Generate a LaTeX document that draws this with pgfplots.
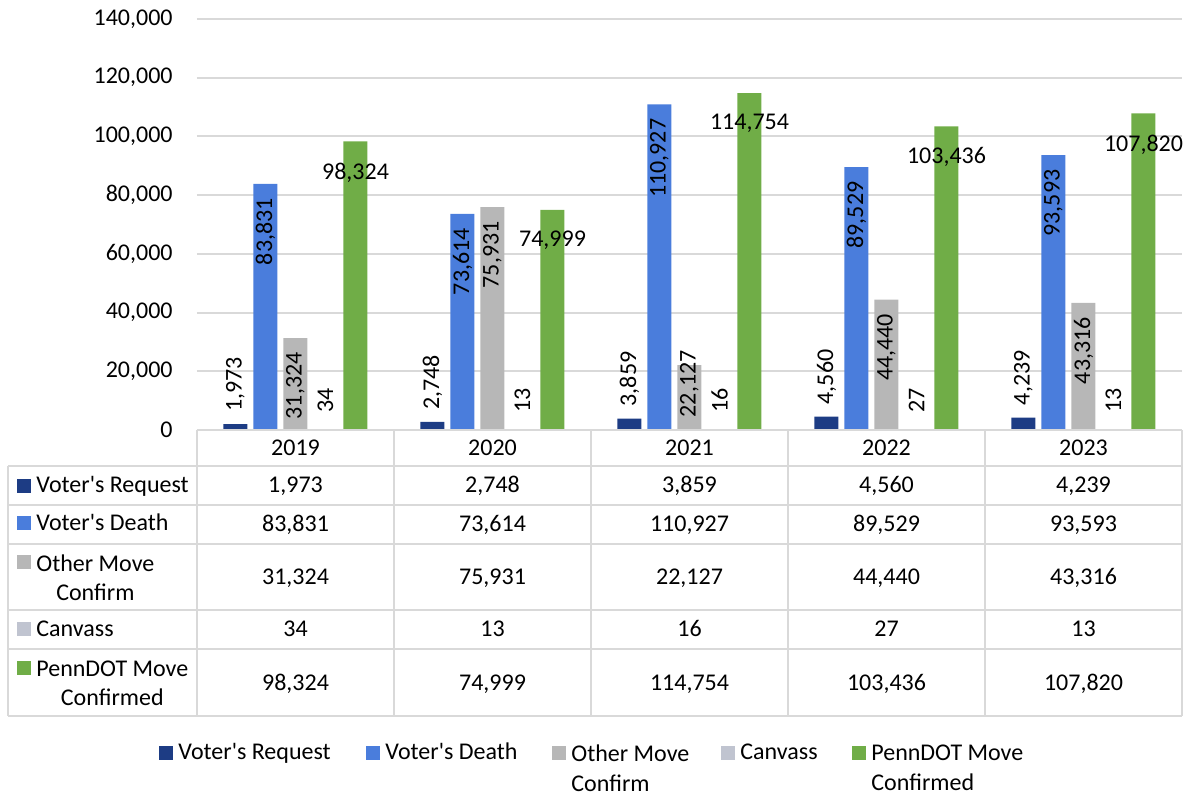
\documentclass[border=0pt]{standalone}
\usepackage{fontspec}
\setmainfont{Carlito}
\usepackage{pgfplots}
\pgfplotsset{compat=1.18}
\definecolor{cReq}{HTML}{1D3C84}
\definecolor{cDeath}{HTML}{4A7DDC}
\definecolor{cOther}{HTML}{B7B7B7}
\definecolor{cCanv}{HTML}{C0C4D0}
\definecolor{cPenn}{HTML}{70AD47}
\definecolor{cGrid}{HTML}{D9D9D9}
\newcommand{\ap}{\textquotesingle}
\begin{document}
\begin{tikzpicture}[font=\fontsize{12}{14.5}\selectfont]
\begin{axis}[
  at={(98.5pt,-215pt)}, anchor=south west,
  scale only axis, width=492.5pt, height=205.5pt,
  ybar=3pt, bar width=12pt,
  xmin=-0.5, xmax=4.5, ymin=0, ymax=140000,
  xtick=\empty,
  ytick={0,20000,40000,60000,80000,100000,120000,140000},
  scaled y ticks=false,
  ymajorgrids, grid style={draw=cGrid, line width=1pt},
  axis line style={draw=none},
  major tick length=0pt,
  yticklabel style={anchor=east, inner sep=0pt, xshift=-12pt},
  /pgf/number format/fixed,
  /pgf/number format/precision=0,
  /pgf/number format/1000 sep={,},
  /pgf/number format/assume math mode=true,
  clip=false,
]
\addplot[fill=cReq, draw=none, nodes near coords,
  every node near coord/.append style={rotate=90, anchor=west, inner xsep=6pt, inner ysep=0pt, text=black}]
  coordinates {(0,1973) (1,2748) (2,3859) (3,4560) (4,4239)};
\addplot[fill=cDeath, draw=none, nodes near coords,
  every node near coord/.append style={rotate=90, anchor=east, inner xsep=7pt, inner ysep=0pt, text=black}]
  coordinates {(0,83831) (1,73614) (2,110927) (3,89529) (4,93593)};
\addplot[fill=cOther, draw=none, nodes near coords,
  visualization depends on={value \thisrow{sh} \as \sh},
  every node near coord/.append style={yshift=\sh pt, rotate=90, anchor=east, inner xsep=7pt, inner ysep=0pt, text=black}]
  table[x=x, y=y] {
x y sh
0 31324 0
1 75931 0
2 22127 14.5
3 44440 0
4 43316 0
};
\addplot[fill=cCanv, draw=none, nodes near coords,
  every node near coord/.append style={rotate=90, anchor=west, inner xsep=8.5pt, inner ysep=0pt, text=black}]
  coordinates {(0,34) (1,13) (2,16) (3,27) (4,13)};
\addplot[fill=cPenn, draw=none, nodes near coords,
  every node near coord/.append style={anchor=north, inner sep=0pt, yshift=-10.5pt, text=black}]
  coordinates {(0,98324) (1,74999) (2,114754) (3,103436) (4,107820)};
\end{axis}
\begin{scope}[x=0.5pt, y=-0.5pt]
\path (0,0) rectangle (1190,795);
% table grid
\draw[cGrid, line width=1pt] (197,430.5) -- (1182,430.5);
\foreach \yy in {466,505,544,610.5,649,716}
  \draw[cGrid, line width=1pt] (8,\yy) -- (1182,\yy);
\draw[cGrid, line width=1pt] (8,466) -- (8,716);
\foreach \xx in {197,394,591,788,985,1182}
  \draw[cGrid, line width=1pt] (\xx,430.5) -- (\xx,716);
% header
\foreach \yr [count=\i from 0] in {2019,2020,2021,2022,2023}
  \node[anchor=base, inner sep=0pt] at (295.5+197*\i,455.6) {\yr};
% values
\foreach \v [count=\i from 0] in {{1,973},{2,748},{3,859},{4,560},{4,239}}
  \node[anchor=base, inner sep=0pt] at (295.5+197*\i,492.6) {\v};
\foreach \v [count=\i from 0] in {{83,831},{73,614},{110,927},{89,529},{93,593}}
  \node[anchor=base, inner sep=0pt] at (295.5+197*\i,531.2) {\v};
\foreach \v [count=\i from 0] in {{31,324},{75,931},{22,127},{44,440},{43,316}}
  \node[anchor=base, inner sep=0pt] at (295.5+197*\i,584.3) {\v};
\foreach \v [count=\i from 0] in {34,13,16,27,13}
  \node[anchor=base, inner sep=0pt] at (295.5+197*\i,637) {\v};
\foreach \v [count=\i from 0] in {{98,324},{74,999},{114,754},{103,436},{107,820}}
  \node[anchor=base, inner sep=0pt] at (295.5+197*\i,691) {\v};
% row labels
\fill[cReq] (17,479) rectangle (31,493);
\node[anchor=base west, inner sep=0pt] at (36,492.6) {Voter\ap s Request};
\fill[cDeath] (17,516.5) rectangle (31,530.5);
\node[anchor=base west, inner sep=0pt] at (36,531) {Voter\ap s Death};
\fill[cOther] (17,555.5) rectangle (31,569.5);
\node[anchor=north west, inner sep=0pt, align=center] at (36,554.2) {Other Move\\Confirm};
\fill[cCanv] (17,622.5) rectangle (31,636.5);
\node[anchor=base west, inner sep=0pt] at (36,636.8) {Canvass};
\fill[cPenn] (17,661) rectangle (31,675);
\node[anchor=north west, inner sep=0pt, align=center] at (36,660.5) {PennDOT Move\\Confirmed};
% legend
\fill[cReq] (159,746) rectangle (173,760);
\node[anchor=base west, inner sep=0pt] at (178,759.6) {Voter\ap s Request};
\fill[cDeath] (366,746) rectangle (380,760);
\node[anchor=base west, inner sep=0pt] at (385,759.6) {Voter\ap s Death};
\fill[cOther] (552,746) rectangle (566,760);
\node[anchor=north west, inner sep=0pt, align=left, font=\fontsize{12}{15}\selectfont] at (571,744.4) {Other Move\\Confirm};
\fill[cCanv] (721,746) rectangle (735,760);
\node[anchor=base west, inner sep=0pt] at (740,759.6) {Canvass};
\fill[cPenn] (852,746) rectangle (866,760);
\node[anchor=north west, inner sep=0pt, align=left, font=\fontsize{12}{15}\selectfont] at (871,744.4) {PennDOT Move\\Confirmed};
\end{scope}
\end{tikzpicture}
\end{document}
